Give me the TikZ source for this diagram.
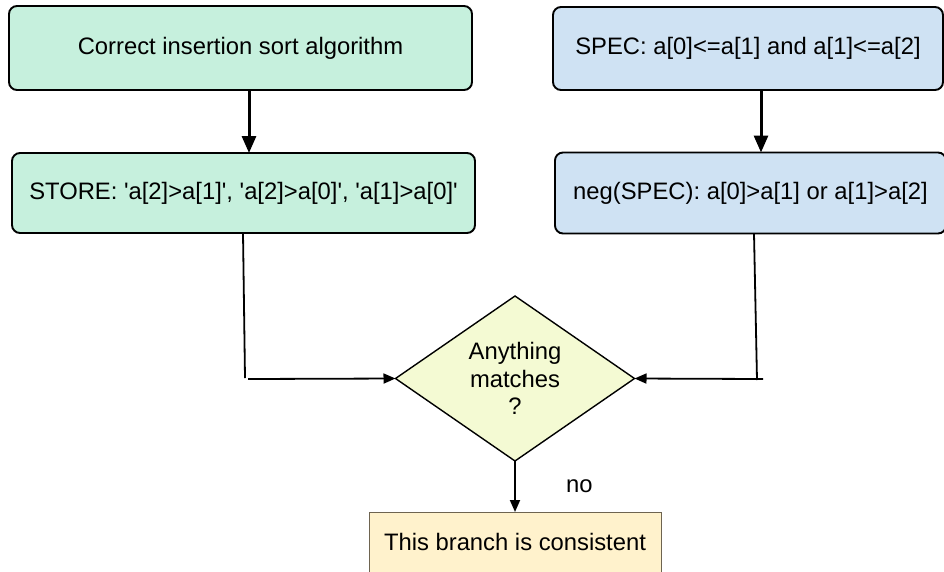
\documentclass[tikz,border=0pt]{standalone}
\usepackage{fontspec}
\setmainfont{Liberation Sans}
\usetikzlibrary{shapes.geometric,arrows.meta}
\definecolor{mintfill}{RGB}{198,240,221}
\definecolor{bluefill}{RGB}{207,226,243}
\definecolor{yellowfill}{RGB}{244,250,211}
\definecolor{creamfill}{RGB}{255,242,204}
\definecolor{creamedge}{RGB}{110,100,80}
\newcommand{\sq}{\textquotesingle}
\tikzset{
  txt/.style={font=\fontsize{23.8}{27.5}\selectfont},
  stepbox/.style={txt, draw=black, line width=1.9pt, rounded corners=8pt, inner sep=0pt, outer sep=0pt,
    align=center},
  decision/.style={txt, draw=black, line width=1.4pt, diamond, fill=yellowfill, inner sep=0pt, outer sep=0pt,
    minimum width=239pt, minimum height=165pt, align=center},
  resultbox/.style={txt, draw=creamedge, line width=1pt, fill=creamfill, inner sep=0pt, outer sep=0pt},
  bigarrow/.style={line width=3pt, -{Triangle[length=17pt,width=14pt]}},
  thinarrow/.style={line width=1.8pt, -{Triangle[length=12pt,width=10pt]}},
  plainline/.style={line width=1.8pt}
}
\begin{document}
\begin{tikzpicture}[x=1pt,y=-1pt]
\useasboundingbox (0,0) rectangle (944,571);
\clip (0,0) rectangle (944,571);

% left column: algorithm and its stored facts
\node[stepbox, fill=mintfill, minimum width=463pt, minimum height=84pt] (alg) at (240.5,48)
  {Correct insertion sort algorithm};
\node[stepbox, fill=mintfill, minimum width=463pt, minimum height=80pt] (store) at (243.5,193)
  {STORE: \sq a[2]>a[1]\sq, \sq a[2]>a[0]\sq, \sq a[1]>a[0]\sq};

% right column: specification and its negation
\node[stepbox, fill=bluefill, minimum width=390pt, minimum height=83pt] (spec) at (748,48.5)
  {SPEC: a[0]<=a[1] and a[1]<=a[2]};
\node[stepbox, fill=bluefill, minimum width=391pt, minimum height=81pt] (neg) at (750.5,193)
  {neg(SPEC): a[0]>a[1] or a[1]>a[2]};

% decision and outcome
\node[decision] (match) at (515,378.5) {Anything\\matches\\?};
\node[resultbox, minimum width=292pt, minimum height=60pt] (cons) at (515,542)
  {This branch is consistent};

% vertical arrows in each column
\draw[bigarrow] (alg.south -| 249,0) -- (store.north -| 249,0);
\draw[bigarrow] (spec.south -| 761,0) -- (neg.north -| 761,0);

% left feed into the decision
\coordinate (lcorner) at (245,378);
\coordinate (lstart) at (248,379);
\draw[plainline] (store.south -| 243,0) -- (lcorner);
\draw[thinarrow] (lstart) -- (match.west);

% right feed into the decision
\coordinate (rcorner) at (757,380);
\coordinate (rstart) at (763,379);
\draw[plainline] (neg.south -| 754,0) -- (rcorner);
\draw[thinarrow] (rstart) -- (match.east);

% outcome
\draw[thinarrow] (match.south) -- (cons.north) node[txt, midway, right=47pt] (nolbl) {no};
\end{tikzpicture}
\end{document}
